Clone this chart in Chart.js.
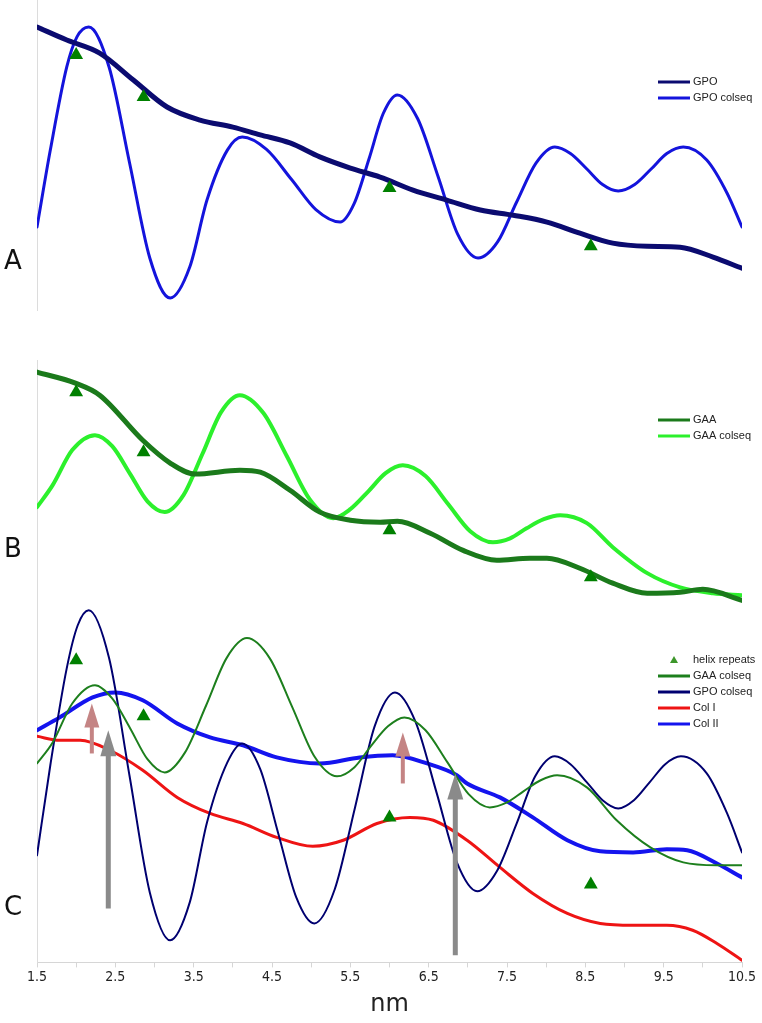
<!DOCTYPE html>
<html><head><meta charset="utf-8">
<script src="https://cdn.jsdelivr.net/npm/chart.js@4/dist/chart.umd.min.js"></script>
<style>html,body{margin:0;padding:0;background:#fff}#wrap{width:762px;height:1023px;position:relative}</style>
</head><body><div id="wrap"><canvas id="c" width="762" height="1023"></canvas></div>
<script>
// ---- data (x in nm, y in relative units per panel) ----
const helixX = [2.0, 2.86, 6.0, 8.57];
const helixA = [82.3, 68.7, 39.4, 20.6];
const helixB = [86.9, 62.4, 30.6, 11.4];
const helixC = [84.6, 68.9, 40.6, 21.8];

const gpoX = [1.50,1.88,2.30,2.73,3.16,3.58,4.00,4.35,4.73,5.11,5.50,5.88,6.30,6.73,7.16,7.58,8.01,8.43,8.85,9.29,9.71,10.13,10.50];
const gpoY = [91.3,87.1,82.9,74.2,65.5,61.3,59.0,56.5,53.9,49.4,45.8,42.9,38.7,35.5,32.3,30.6,28.4,24.8,21.6,20.6,20.3,17.1,13.5];

const gpoColX = [1.50,1.67,1.88,2.01,2.16,2.42,2.68,2.94,3.20,3.45,3.67,3.93,4.12,4.43,4.75,5.06,5.37,5.55,5.74,5.92,6.10,6.36,6.62,6.87,7.13,7.38,7.62,7.87,8.11,8.31,8.52,8.72,8.92,9.13,9.34,9.54,9.75,10.05,10.31,10.50];
const gpoColY = [26.8,51.6,78.4,88.1,91.3,78.4,47.7,16.8,3.9,13.9,35.5,51.6,55.8,51.8,42.1,32.4,28.4,34.4,48.9,63.4,69.4,61.7,43.1,24.5,16.8,22.0,34.7,47.4,52.6,50.5,45.5,40.5,38.4,40.5,45.5,50.5,52.6,48.4,37.7,26.8];

const gaaX = [1.50,1.99,2.30,2.85,3.20,3.52,4.09,4.35,4.73,5.11,5.50,5.88,6.10,6.52,6.94,7.37,7.79,8.01,8.43,8.85,9.29,9.71,10.00,10.50];
const gaaY = [95.1,90.6,85.7,67.3,58.0,53.5,55.1,54.3,46.9,38.0,34.7,33.9,34.3,29.4,22.4,18.4,19.2,19.2,15.1,9.0,4.9,5.3,6.5,2.0];

const gaaColX = [1.50,1.70,1.95,2.24,2.46,2.69,2.91,3.13,3.37,3.61,3.85,4.09,4.39,4.69,4.98,5.28,5.50,5.73,5.95,6.17,6.46,6.75,7.03,7.32,7.54,7.75,7.97,8.18,8.52,8.85,9.29,9.71,10.13,10.50];
const gaaColY = [40.0,49.0,63.3,69.4,64.9,53.5,42.4,38.0,44.9,61.6,78.8,85.7,78.4,60.8,43.3,35.5,39.2,46.5,53.9,57.1,52.7,41.2,30.2,25.7,27.3,31.4,35.1,36.7,33.5,23.7,13.1,7.3,4.9,4.1];

const cGaaX = [1.50,1.70,1.95,2.24,2.46,2.69,2.91,3.13,3.39,3.66,3.92,4.18,4.47,4.76,5.04,5.33,5.55,5.76,5.98,6.19,6.46,6.74,7.01,7.28,7.50,7.71,7.93,8.14,8.52,8.90,9.33,9.75,10.18,10.50];
const cGaaY = [55.7,61.6,72.5,77.6,73.9,65.5,56.9,53.2,58.8,72.0,85.2,90.8,85.2,71.4,57.7,52.1,54.6,60.5,66.1,68.6,65.0,56.0,47.1,43.4,44.8,47.9,51.0,52.4,49.0,39.8,32.2,28.0,27.2,27.2];

const cGpoX = [1.50,1.67,1.88,2.02,2.16,2.42,2.68,2.94,3.20,3.45,3.67,3.93,4.12,4.35,4.58,4.81,5.04,5.30,5.56,5.81,6.07,6.33,6.60,6.86,7.12,7.37,7.62,7.86,8.11,8.31,8.52,8.72,8.92,9.12,9.32,9.52,9.72,10.05,10.31,10.50];
const cGpoY = [30.0,55.2,82.4,94.4,98.6,85.2,52.4,19.6,6.2,16.8,39.2,56.0,61.3,54.1,36.1,18.2,10.9,20.4,43.4,66.1,75.6,67.5,47.6,28.0,19.9,25.5,38.7,52.1,57.7,55.5,50.4,45.4,43.1,45.4,50.4,55.5,57.7,52.9,41.7,30.8];

const col1X = [1.50,1.79,2.05,2.43,2.85,3.29,3.71,4.13,4.56,5.02,5.41,5.84,6.26,6.56,6.99,7.41,7.83,8.27,8.69,9.11,9.54,9.87,10.18,10.50];
const col1Y = [63.3,62.2,62.2,59.4,53.8,46.2,41.7,38.9,35.0,32.5,34.2,38.9,40.6,39.8,34.2,26.6,19.3,13.7,10.9,10.4,10.4,9.0,5.3,0.6];

const col2X = [1.50,1.79,2.21,2.50,2.85,3.29,3.71,4.13,4.56,5.11,5.62,6.04,6.48,6.86,6.99,7.41,7.83,8.27,8.69,9.11,9.54,9.80,10.18,10.50];
const col2Y = [65.0,68.6,74.2,75.6,73.4,66.9,63.0,60.8,57.4,55.7,57.4,58.0,55.7,52.4,50.1,46.2,40.6,34.2,31.1,30.8,31.7,31.4,27.7,23.8];

// arrows in panel C (x in nm, from/to in panel C units)
const arrowX = [2.2, 2.41, 6.17, 6.84];
const arrowFrom = [58.5, 15.1, 50.1, 2.0];
const arrowTo = [72.5, 65.0, 64.4, 52.9];
const arrowColors = ['#c48484', '#8a8a8a', '#c48484', '#8a8a8a'];

const panelLabels = ['A', 'B', 'C'];
const panelLabelV = [15.5, 22.4, 15.1];
const xTickStart = 1.5, xTickEnd = 10.5, xTickStep = 0.5;

const pts = (xs, ys) => xs.map((x, i) => ({x: x, y: ys[i]}));

function lineDS(label, xs, ys, color, width, axis, inLegend) {
  return {type: 'line', label: label, data: pts(xs, ys), borderColor: color, backgroundColor: color,
    borderWidth: width, pointRadius: 0, cubicInterpolationMode: 'monotone', yAxisID: axis, fill: false,
    borderCapStyle: 'round', borderJoinStyle: 'round', panelLegend: inLegend};
}
function helixDS(ys, axis, inLegend) {
  return {type: 'scatter', label: 'helix repeats', data: pts(helixX, ys), pointStyle: 'triangle',
    pointRadius: 8, pointBackgroundColor: '#008000', pointBorderColor: '#008000', pointBorderWidth: 0,
    yAxisID: axis, showLine: false, panelLegend: inLegend};
}

const datasets = [
  helixDS(helixA, 'yA', null),
  helixDS(helixB, 'yB', null),
  helixDS(helixC, 'yC', 'C'),
  lineDS('GPO', gpoX, gpoY, '#0b0b70', 5, 'yA', 'A'),
  lineDS('GPO colseq', gpoColX, gpoColY, '#1414dc', 3, 'yA', 'A'),
  lineDS('GAA', gaaX, gaaY, '#1b7a1b', 5, 'yB', 'B'),
  lineDS('GAA colseq', gaaColX, gaaColY, '#2cf02c', 4, 'yB', 'B'),
  lineDS('GAA colseq', cGaaX, cGaaY, '#1d7f1d', 2, 'yC', 'C'),
  lineDS('GPO colseq', cGpoX, cGpoY, '#000070', 2, 'yC', 'C'),
  lineDS('Col I', col1X, col1Y, '#ee1414', 3, 'yC', 'C'),
  lineDS('Col II', col2X, col2Y, '#1414ee', 4, 'yC', 'C')
];

const legendPos = {A: 82, B: 420, C: 660};

const customPlugin = {
  id: 'custom',
  afterDatasetsDraw(chart) {
    const ctx = chart.ctx, xs = chart.scales.x, ys = chart.scales.yC;
    arrowX.forEach((x, i) => {
      const px = xs.getPixelForValue(x);
      const y0 = ys.getPixelForValue(arrowFrom[i]);
      const y1 = ys.getPixelForValue(arrowTo[i]);
      const gray = arrowColors[i] === '#8a8a8a';
      const hl = gray ? 26 : 24, hw = gray ? 16 : 15;
      ctx.save();
      ctx.strokeStyle = arrowColors[i]; ctx.fillStyle = arrowColors[i];
      ctx.lineWidth = gray ? 5 : 4;
      ctx.beginPath(); ctx.moveTo(px, y0); ctx.lineTo(px, y1 + hl - 1); ctx.stroke();
      ctx.beginPath(); ctx.moveTo(px, y1); ctx.lineTo(px - hw / 2, y1 + hl); ctx.lineTo(px + hw / 2, y1 + hl);
      ctx.closePath(); ctx.fill();
      ctx.restore();
    });
    ctx.save();
    ctx.fillStyle = '#111'; ctx.font = '26px "DejaVu Sans"'; ctx.textBaseline = 'middle'; ctx.textAlign = 'left';
    ['yA', 'yB', 'yC'].forEach((id, i) => {
      ctx.fillText(panelLabels[i], 4, chart.scales[id].getPixelForValue(panelLabelV[i]));
    });
    ctx.restore();
    ctx.save();
    ctx.font = '11px "Liberation Sans", Arial, sans-serif';
    ctx.textBaseline = 'middle'; ctx.textAlign = 'left';
    Object.keys(legendPos).forEach(p => {
      let y = legendPos[p];
      chart.data.datasets.forEach(ds => {
        if (ds.panelLegend !== p) return;
        if (ds.type === 'scatter') {
          ctx.fillStyle = '#3c962a';
          ctx.beginPath(); ctx.moveTo(674, y - 4); ctx.lineTo(670, y + 3); ctx.lineTo(678, y + 3); ctx.closePath(); ctx.fill();
        } else {
          ctx.strokeStyle = ds.borderColor; ctx.lineWidth = 3;
          ctx.beginPath(); ctx.moveTo(658, y); ctx.lineTo(690, y); ctx.stroke();
        }
        ctx.fillStyle = '#222';
        ctx.fillText(ds.label, 693, y);
        y += 16;
      });
    });
    ctx.restore();
  }
};

const hiddenY = (weight, border) => ({
  type: 'linear', position: 'left', stack: 'panels', stackWeight: weight, min: 0, max: 100,
  display: true, ticks: {display: false}, grid: {display: false, drawTicks: false},
  border: {display: border, color: '#dcdcdc', width: 1}
});

new Chart(document.getElementById('c'), {
  data: {datasets: datasets},
  options: {
    responsive: false, animation: false,
    layout: {autoPadding: false, padding: {left: 37, right: 20, top: 0, bottom: 4}},
    plugins: {legend: {display: false}, tooltip: {enabled: false}},
    scales: {
      x: {
        type: 'linear', position: 'bottom', min: xTickStart, max: xTickEnd,
        ticks: {stepSize: xTickStep, autoSkip: false, maxRotation: 0, padding: 2, color: '#222',
          font: {family: '"Liberation Sans Narrow", "DejaVu Sans Condensed", sans-serif', size: 14},
          callback: v => (Math.round(v * 2) % 2 === 1 ? v.toFixed(1) : '')},
        grid: {display: true, drawOnChartArea: false, drawTicks: true, tickLength: 5, color: '#d6d6d6'},
        border: {display: true, color: '#d6d6d6'},
        title: {display: true, text: 'nm', color: '#222', font: {family: '"DejaVu Sans", sans-serif', size: 24}, padding: {top: 2, bottom: 0}}
      },
      yC: hiddenY(357, true),
      yB: hiddenY(245, true),
      yGap: hiddenY(50, false),
      yA: hiddenY(310, true)
    }
  },
  plugins: [customPlugin]
});
</script></body></html>
